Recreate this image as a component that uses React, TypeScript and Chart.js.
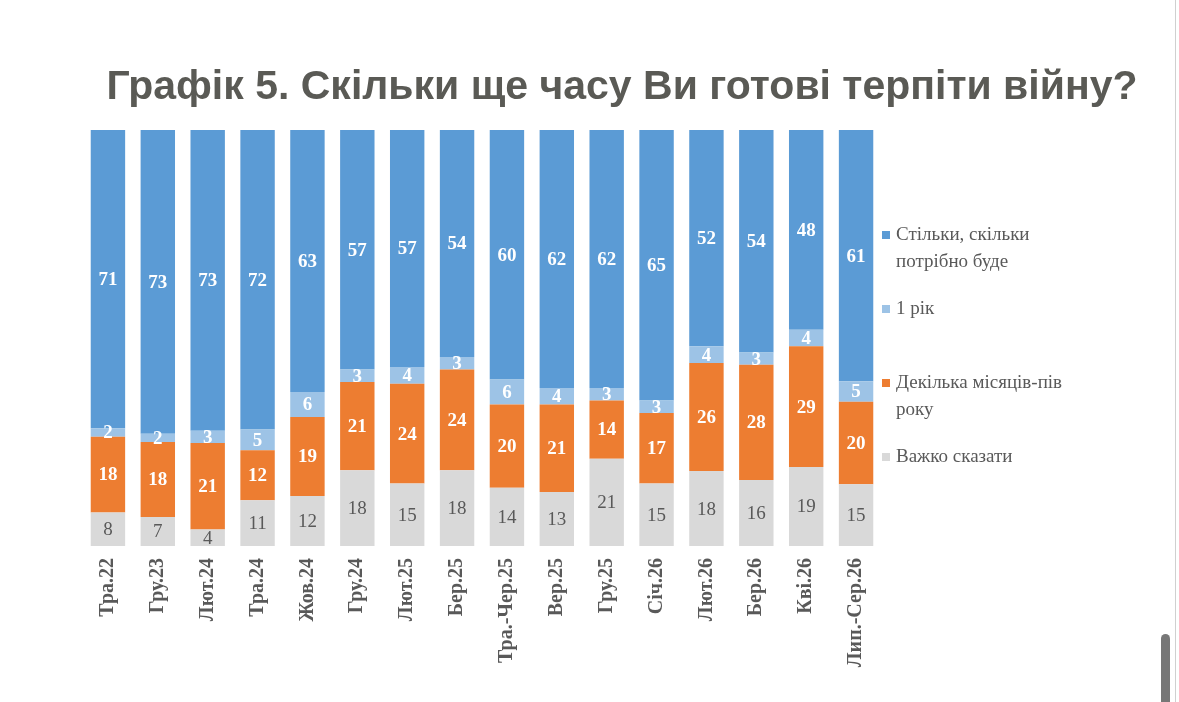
import { useEffect, useRef } from "react";
import { Chart, registerables } from "chart.js";
import type { Plugin } from "chart.js";

Chart.register(...registerables);

const categories = [
  "Тра.22", "Гру.23", "Лют.24", "Тра.24", "Жов.24", "Гру.24", "Лют.25", "Бер.25",
  "Тра.-Чер.25", "Вер.25", "Гру.25", "Січ.26", "Лют.26", "Бер.26", "Кві.26", "Лип.-Сер.26",
];

// stacked bottom -> top
const hardToSay = [8, 7, 4, 11, 12, 18, 15, 18, 14, 13, 21, 15, 18, 16, 19, 15];
const fewMonths = [18, 18, 21, 12, 19, 21, 24, 24, 20, 21, 14, 17, 26, 28, 29, 20];
const oneYear = [2, 2, 3, 5, 6, 3, 4, 3, 6, 4, 3, 3, 4, 3, 4, 5];
const asLongAsNeeded = [71, 73, 73, 72, 63, 57, 57, 54, 60, 62, 62, 65, 52, 54, 48, 61];

const seriesNames = [
  ["Важко сказати"],
  ["Декілька місяців-пів", "року"],
  ["1 рік"],
  ["Стільки, скільки", "потрібно буде"],
];
const seriesColors = ["#D9D9D9", "#ED7D31", "#9DC3E6", "#5B9BD5"];
const seriesRaw = [hardToSay, fewMonths, oneYear, asLongAsNeeded];

const title = "Графік 5. Скільки ще часу Ви готові терпіти війну?";
const textGray = "#595959";

// bars are drawn as share of the column total (100% stacked)
const totals = categories.map((_, i) => seriesRaw.reduce((s, arr) => s + arr[i], 0));

const labelsPlugin: Plugin<"bar"> = {
  id: "segmentLabels",
  afterDatasetsDraw(chart) {
    const ctx = chart.ctx;
    ctx.save();
    ctx.textAlign = "center";
    ctx.textBaseline = "middle";
    chart.data.datasets.forEach((ds, di) => {
      const meta = chart.getDatasetMeta(di);
      const raw = seriesRaw[di];
      meta.data.forEach((bar: any, i) => {
        const y = (bar.y + bar.base) / 2;
        if (di === 0) {
          ctx.font = "19px 'Liberation Serif'";
          ctx.fillStyle = textGray;
        } else {
          ctx.font = "bold 19px 'Liberation Serif'";
          ctx.fillStyle = "#ffffff";
        }
        ctx.fillText(String(raw[i]), bar.x, y + 1);
      });
    });
    ctx.restore();
  },
};

const decorPlugin: Plugin<"bar"> = {
  id: "decor",
  afterDraw(chart) {
    const ctx = chart.ctx;
    const area = chart.chartArea;
    ctx.save();
    // title
    ctx.font = "bold 41px 'Liberation Sans'";
    ctx.fillStyle = "#5a5a55";
    ctx.textAlign = "center";
    ctx.textBaseline = "alphabetic";
    ctx.fillText(title, 622, 99);
    // legend, top item = top of stack
    ctx.font = "19px 'Liberation Serif'";
    ctx.textAlign = "left";
    ctx.textBaseline = "middle";
    const order = [3, 2, 1, 0];
    order.forEach((si, k) => {
      const y0 = 235 + k * 74;
      ctx.fillStyle = seriesColors[si];
      ctx.fillRect(area.right + 1, y0 - 4, 8, 8);
      ctx.fillStyle = textGray;
      seriesNames[si].forEach((line, li) => {
        ctx.fillText(line, area.right + 15, y0 + li * 27);
      });
    });
    ctx.restore();
  },
};

export default function App() {
  const canvasRef = useRef<HTMLCanvasElement>(null);

  useEffect(() => {
    if (!canvasRef.current) return;
    const chart = new Chart(canvasRef.current, {
      type: "bar",
      data: {
        labels: categories,
        datasets: seriesRaw.map((arr, si) => ({
          label: seriesNames[si].join(" "),
          data: arr.map((v, i) => (v / totals[i]) * 100),
          backgroundColor: seriesColors[si],
          borderWidth: 0,
          categoryPercentage: 1,
          barPercentage: 0.69,
        })),
      },
      options: {
        animation: false,
        responsive: true,
        maintainAspectRatio: false,
        layout: { padding: { left: 83, right: 298, top: 130, bottom: 0 } },
        plugins: {
          legend: { display: false },
          title: { display: false },
          tooltip: { enabled: false },
        },
        scales: {
          x: {
            stacked: true,
            grid: { display: false },
            border: { display: false },
            afterFit(scale) {
              scale.height = 156;
            },
            ticks: {
              maxRotation: 90,
              minRotation: 90,
              padding: 4,
              color: textGray,
              font: { family: "'Liberation Serif'", size: 20, weight: "bold" },
            },
          },
          y: {
            stacked: true,
            display: false,
            min: 0,
            max: 100,
          },
        },
      },
      plugins: [labelsPlugin, decorPlugin],
    });
    return () => chart.destroy();
  }, []);

  return (
    <div style={{ position: "fixed", left: 0, top: 0, width: 1179, height: 702, background: "#fff" }}>
      <canvas ref={canvasRef} />
      <div style={{ position: "absolute", left: 1175, top: 0, width: 1, height: 702, background: "#d0d0d0" }} />
      <div
        style={{
          position: "absolute",
          left: 1161,
          top: 634,
          width: 9,
          height: 72,
          borderRadius: 5,
          background: "#777",
        }}
      />
    </div>
  );
}
